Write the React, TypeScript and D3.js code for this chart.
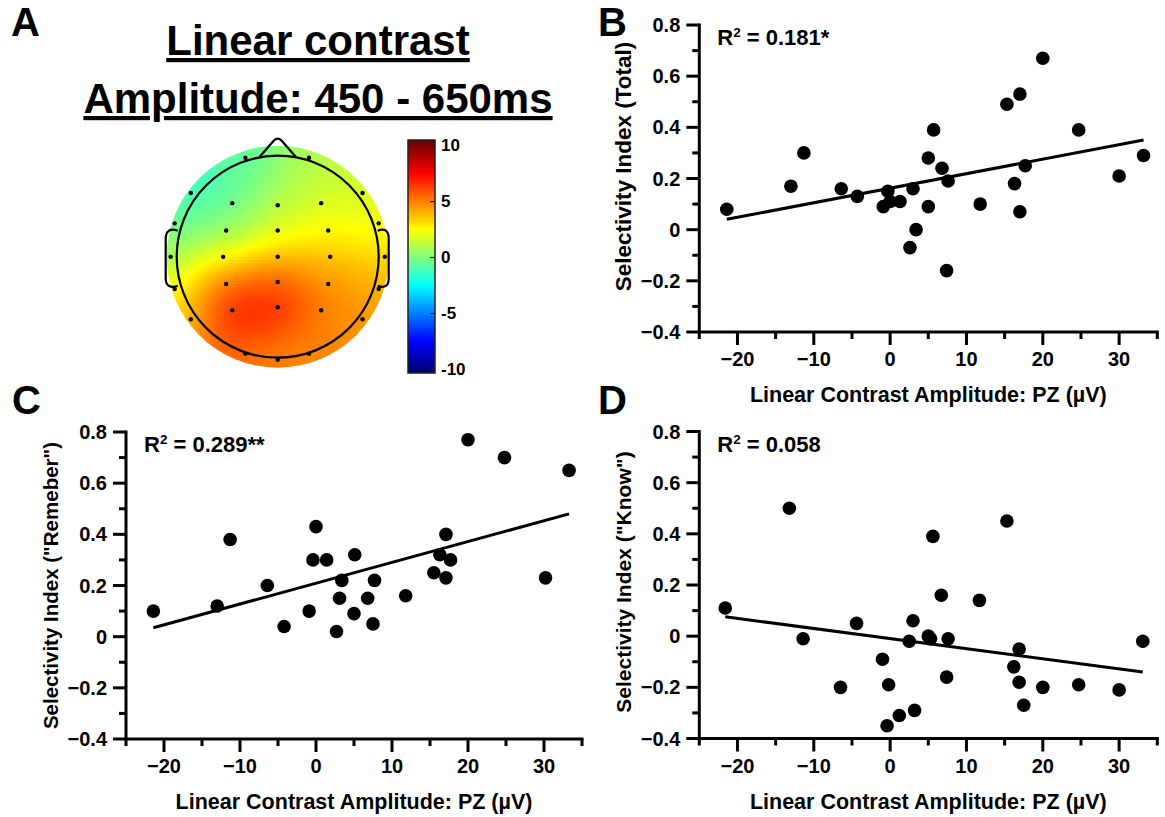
import React, { useMemo } from 'react';
import * as d3 from 'd3';

// ---------- Scatter data ----------
// Panel B: Selectivity Index (Total)
const totalX = [-21.4, -13.0, -11.3, -6.4, -4.3, -0.3, -0.9, 0.0, 1.3, 3.0, 3.4, 2.6, 5.0, 5.0, 5.7, 6.8, 7.6, 7.4, 11.8, 15.3, 17.0, 16.3, 17.0, 17.7, 20.0, 24.7, 30.0, 33.2];
const totalY = [0.08, 0.17, 0.30, 0.16, 0.13, 0.15, 0.09, 0.11, 0.11, 0.16, 0.00, -0.07, 0.28, 0.09, 0.39, 0.24, 0.19, -0.16, 0.10, 0.49, 0.53, 0.18, 0.07, 0.25, 0.67, 0.39, 0.21, 0.29];
// Panel C: Selectivity Index ("Remeber")
const rememberX = [-21.4, -13.0, -11.3, -6.4, -4.2, -0.9, 0.0, -0.4, 1.4, 3.1, 3.4, 2.7, 5.1, 5.0, 7.7, 6.8, 7.5, 11.8, 15.5, 17.1, 16.3, 17.1, 17.7, 20.0, 24.8, 30.2, 33.3];
const rememberY = [0.10, 0.12, 0.38, 0.20, 0.04, 0.10, 0.43, 0.30, 0.30, 0.15, 0.22, 0.02, 0.32, 0.09, 0.22, 0.15, 0.05, 0.16, 0.25, 0.40, 0.32, 0.23, 0.30, 0.77, 0.70, 0.23, 0.65];
// Panel D: Selectivity Index ("Know")
const knowX = [-21.6, -13.2, -11.4, -6.5, -4.4, -1.0, -0.2, -0.4, 1.2, 3.0, 2.5, 3.2, 5.0, 5.3, 5.6, 6.7, 7.6, 7.4, 11.7, 15.3, 16.2, 16.9, 16.9, 17.5, 20.0, 24.7, 30.0, 33.1];
const knowY = [0.11, 0.50, -0.01, -0.20, 0.05, -0.09, -0.19, -0.35, -0.31, 0.06, -0.02, -0.29, 0.00, -0.01, 0.39, 0.16, -0.01, -0.16, 0.14, 0.45, -0.12, -0.05, -0.18, -0.27, -0.20, -0.19, -0.21, -0.02];

// fitted lines: [intercept, slope]
const fitTotal = [0.162, 0.00568];
const fitRemember = [0.209, 0.00814];
const fitKnow = [-0.0093, -0.00394];

const r2Total = '0.181*';
const r2Remember = '0.289**';
const r2Know = '0.058';

const xDomain = [-25, 35];
const yDomain = [-0.4, 0.8];
const xTicks = [-20, -10, 0, 10, 20, 30];
const xMinorTicks = [-25, -15, -5, 5, 15, 25, 35];
const yTicks = [-0.4, -0.2, 0, 0.2, 0.4, 0.6, 0.8];
const yMinorTicks = [-0.3, -0.1, 0.1, 0.3, 0.5, 0.7];

// ---------- Topomap data (electrode positions in head-radius units, amplitudes in µV) ----------
const electrodeX = [-0.45, 0, 0.43, -0.51, 0, 0.5, -0.54, 0, 0.52, -0.51, 0, 0.5, -0.45, 0, 0.43,
  -0.32, 0.31, -0.86, 0.84, -1.02, 1.0, -1.06, 1.06, -1.02, 1.0, -0.86, 0.84, -0.32, 0, 0.31];
const electrodeY = [-0.53, -0.51, -0.53, -0.26, -0.26, -0.26, 0, 0, 0, 0.27, 0.25, 0.27, 0.53, 0.5, 0.53,
  -0.98, -0.98, -0.63, -0.63, -0.33, -0.33, 0, 0, 0.32, 0.32, 0.62, 0.62, 0.96, 1.02, 0.96];
const electrodeV = [-0.8, 0.7, 1.6, 0.3, 1.8, 2.5, 1.8, 3.4, 3.7, 6.2, 6.6, 4.8, 7.8, 7.2, 5.0,
  -0.6, 0.8, -1.6, 1.5, -0.6, 2.2, 0.6, 3.0, 2.4, 4.2, 3.6, 4.6, 5.2, 4.9, 4.7];
const colorbarTicks = [10, 5, 0, -5, -10];

const FONT = '"Liberation Sans", Arial, Helvetica, sans-serif';

function jet(v: number) {
  const t = (v + 10) / 20;
  const c = (x: number) => Math.max(0, Math.min(1, x));
  const r = c(1.5 - Math.abs(4 * t - 3));
  const g = c(1.5 - Math.abs(4 * t - 2));
  const b = c(1.5 - Math.abs(4 * t - 1));
  return `rgb(${Math.round(r * 255)},${Math.round(g * 255)},${Math.round(b * 255)})`;
}

function fmtY(v: number) {
  if (Math.abs(v) < 1e-9) return '0';
  return (v < 0 ? '\u2212' : '') + Math.abs(v).toFixed(1);
}
function fmtX(v: number) {
  if (v === 0) return '0';
  return (v < 0 ? '\u2212' : '') + Math.abs(v);
}

type ScatterProps = {
  left: number; right: number; top: number; bottom: number;
  xs: number[]; ys: number[]; fit: number[]; yTitle: string; r2: string;
  yTitleSize: number; yTitleShift: number;
};

function Scatter({ left, right, top, bottom, xs, ys, fit, yTitle, r2, yTitleSize, yTitleShift }: ScatterProps) {
  const x = d3.scaleLinear().domain(xDomain).range([left, right]);
  const y = d3.scaleLinear().domain(yDomain).range([bottom, top]);
  const ext = d3.extent(xs) as [number, number];
  const line = d3.line<number>().x(d => x(d)).y(d => y(fit[0] + fit[1] * d));
  const sw = 3;
  const major = 13;
  const minor = 7;
  return (
    <g fontFamily={FONT} fontWeight="bold" fill="#000">
      <line x1={left} x2={left} y1={top - sw / 2} y2={bottom} stroke="#000" strokeWidth={sw} />
      <line x1={left - sw / 2} x2={right + sw / 2} y1={bottom} y2={bottom} stroke="#000" strokeWidth={sw} />
      {yTicks.map(t => (
        <g key={'ym' + t}>
          <line x1={left - major} x2={left} y1={y(t)} y2={y(t)} stroke="#000" strokeWidth={sw} />
          <text x={left - major - 6} y={y(t)} textAnchor="end" dominantBaseline="central" fontSize={20}>{fmtY(t)}</text>
        </g>
      ))}
      {yMinorTicks.map(t => (
        <line key={'yn' + t} x1={left - minor} x2={left} y1={y(t)} y2={y(t)} stroke="#000" strokeWidth={sw} />
      ))}
      {xTicks.map(t => (
        <g key={'xm' + t}>
          <line x1={x(t)} x2={x(t)} y1={bottom} y2={bottom + major} stroke="#000" strokeWidth={sw} />
          <text x={x(t)} y={bottom + 34} textAnchor="middle" fontSize={20}>{fmtX(t)}</text>
        </g>
      ))}
      {xMinorTicks.map(t => (
        <line key={'xn' + t} x1={x(t)} x2={x(t)} y1={bottom} y2={bottom + minor} stroke="#000" strokeWidth={sw} />
      ))}
      <text x={(left + right) / 2} y={bottom + 70} textAnchor="middle" fontSize={21.5}>Linear Contrast Amplitude: PZ (µV)</text>
      <text transform={`translate(${left - 68},${(top + bottom) / 2 + yTitleShift}) rotate(-90)`} textAnchor="middle" fontSize={yTitleSize}>{yTitle}</text>
      <text x={left + 18} y={top + 20} fontSize={22}>R<tspan dy={-8} fontSize={13.5}>2</tspan><tspan dy={8}>{' = ' + r2}</tspan></text>
      <path d={line([ext[0], ext[1]]) || ''} stroke="#000" strokeWidth={3} fill="none" />
      {xs.map((v, i) => (
        <circle key={i} cx={x(v)} cy={y(ys[i])} r={6.8} fill="#000" />
      ))}
    </g>
  );
}

function Topomap() {
  const cx = 277.7, cy = 256.7, R = 101, diskR = 111;
  const cells = useMemo(() => {
    const out: { x: number; y: number; c: string }[] = [];
    const step = 3;
    const sigma = 0.26;
    for (let py = cy - diskR; py < cy + diskR; py += step) {
      for (let px = cx - diskR; px < cx + diskR; px += step) {
        const mx = px + step / 2, my = py + step / 2;
        if ((mx - cx) ** 2 + (my - cy) ** 2 > (diskR + 3) ** 2) continue;
        const nx = (mx - cx) / R, ny = (my - cy) / R;
        let sw = 0, sv = 0;
        for (let i = 0; i < electrodeX.length; i++) {
          const d2 = (nx - electrodeX[i]) ** 2 + (ny - electrodeY[i]) ** 2;
          const w = Math.exp(-d2 / (2 * sigma * sigma));
          sw += w; sv += w * electrodeV[i];
        }
        out.push({ x: px, y: py, c: jet(sv / sw) });
      }
    }
    return out;
  }, []);
  const cb = d3.scaleLinear().domain([-10, 10]).range([369.3, 145.7]);
  const cbTop = 140, cbBottom = 373, cbX = 408, cbW = 27;
  const stops = d3.range(0, 1.0001, 0.02);
  return (
    <g>
      <defs>
        <clipPath id="diskClip"><circle cx={cx} cy={cy} r={diskR} /></clipPath>
        <linearGradient id="jetGrad" x1="0" y1="1" x2="0" y2="0">
          {stops.map(s => (
            <stop key={s} offset={s} stopColor={jet(cb.invert(cbBottom - s * (cbBottom - cbTop)))} />
          ))}
        </linearGradient>
      </defs>
      <g clipPath="url(#diskClip)" shapeRendering="crispEdges">
        {cells.map((c, i) => <rect key={i} x={c.x} y={c.y} width={3.2} height={3.2} fill={c.c} />)}
      </g>
      <circle cx={cx} cy={cy} r={R} fill="none" stroke="#000" strokeWidth={2.2} />
      <path d={`M ${cx - 18},${cy - R + 1} L ${cx - 4},${cy - R - 15} Q ${cx},${cy - R - 19} ${cx + 4},${cy - R - 15} L ${cx + 18},${cy - R + 1}`} fill="none" stroke="#000" strokeWidth={2.2} />
      <path d={`M ${cx - R + 1},${cy - 26} C ${cx - R - 6},${cy - 29} ${cx - R - 11},${cy - 26} ${cx - R - 11},${cy - 18} L ${cx - R - 11},${cy + 22} C ${cx - R - 11},${cy + 29} ${cx - R - 6},${cy + 32} ${cx - R + 1},${cy + 29}`} fill="none" stroke="#000" strokeWidth={2.2} />
      <path d={`M ${cx + R - 1},${cy - 26} C ${cx + R + 6},${cy - 29} ${cx + R + 10},${cy - 26} ${cx + R + 10},${cy - 18} L ${cx + R + 10},${cy + 22} C ${cx + R + 10},${cy + 29} ${cx + R + 6},${cy + 32} ${cx + R - 1},${cy + 29}`} fill="none" stroke="#000" strokeWidth={2.2} />
      {electrodeX.map((ex, i) => (
        <circle key={i} cx={cx + ex * R} cy={cy + electrodeY[i] * R} r={2.2} fill="#000" />
      ))}
      <rect x={cbX} y={cbTop} width={cbW} height={cbBottom - cbTop} fill="url(#jetGrad)" stroke="#222" strokeWidth={1.5} />
      {colorbarTicks.map(t => (
        <g key={t}>
          <line x1={cbX + cbW - 5} x2={cbX + cbW} y1={cb(t)} y2={cb(t)} stroke="#222" strokeWidth={1.2} />
          <text x={cbX + cbW + 6} y={cb(t)} dominantBaseline="central" fontSize={17} fontFamily={FONT} fontWeight="bold">{String(t)}</text>
        </g>
      ))}
    </g>
  );
}

export default function App() {
  return (
    <svg width={1165} height={817} style={{ position: 'absolute', left: 0, top: 0, background: '#fff' }} fontFamily={FONT}>
      <rect x={0} y={0} width={1165} height={817} fill="#fff" />
      <g fontSize={40} fontWeight="bold" fontFamily={FONT}>
        <text x={11} y={36}>A</text>
        <text x={598} y={36}>B</text>
        <text x={12} y={414}>C</text>
        <text x={598} y={414}>D</text>
      </g>
      <g fontSize={42} fontWeight="bold" fontFamily={FONT} textAnchor="middle">
        <text x={318} y={55} style={{ textDecoration: 'underline' }}>Linear contrast</text>
        <text x={318} y={113} style={{ textDecoration: 'underline' }}>Amplitude: 450 - 650ms</text>
      </g>
      <Topomap />
      <Scatter left={699.3} right={1157.3} top={25} bottom={332} xs={totalX} ys={totalY} fit={fitTotal} yTitle="Selectivity Index (Total)" r2={r2Total} yTitleSize={22.5} yTitleShift={-12} />
      <Scatter left={126} right={582} top={432} bottom={739} xs={rememberX} ys={rememberY} fit={fitRemember} yTitle={'Selectivity Index ("Remeber")'} r2={r2Remember} yTitleSize={20.5} yTitleShift={0} />
      <Scatter left={699.3} right={1157.3} top={431.5} bottom={738.5} xs={knowX} ys={knowY} fit={fitKnow} yTitle={'Selectivity Index ("Know")'} r2={r2Know} yTitleSize={21} yTitleShift={-3} />
    </svg>
  );
}
